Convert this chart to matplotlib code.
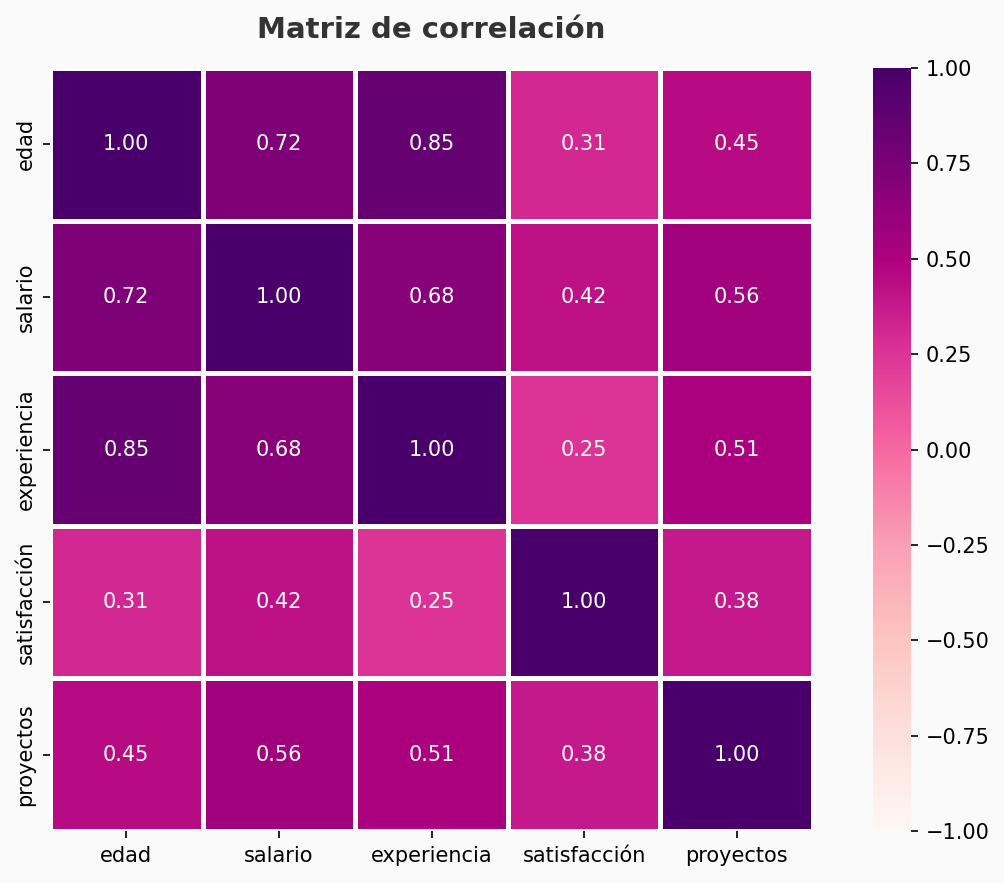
import matplotlib
matplotlib.use("Agg")
import matplotlib.pyplot as plt
import seaborn as sns
import numpy as np
import pandas as pd

labels = ["edad", "salario", "experiencia", "satisfacción", "proyectos"]
row_edad = [1.00, 0.72, 0.85, 0.31, 0.45]
row_salario = [0.72, 1.00, 0.68, 0.42, 0.56]
row_experiencia = [0.85, 0.68, 1.00, 0.25, 0.51]
row_satisfaccion = [0.31, 0.42, 0.25, 1.00, 0.38]
row_proyectos = [0.45, 0.56, 0.51, 0.38, 1.00]

corr = pd.DataFrame([row_edad, row_salario, row_experiencia, row_satisfaccion, row_proyectos],
                    index=labels, columns=labels)

bg = "#fafafa"
W, H = 1004, 883
DPI = 150
fig = plt.figure(figsize=(W / DPI, H / DPI), dpi=DPI, facecolor=bg)
ax = fig.add_axes([50 / W, (H - 831) / H, 763 / W, 763 / H])
cax = fig.add_axes([873 / W, (H - 831) / H, 38 / W, 763 / H])
ax.set_facecolor(bg)

sns.heatmap(corr, ax=ax, cbar_ax=cax, cmap="RdPu", vmin=-1, vmax=1, annot=True, fmt=".2f",
            linewidths=1.5, linecolor="white", annot_kws={"fontsize": 10, "color": "white"})
ax.set_title("Matriz de correlación", fontsize=14, fontweight="bold", color="#333333", pad=14.5)
ax.tick_params(labelsize=10)
cax.tick_params(labelsize=10)
cax.set_yticks([-1, -0.75, -0.5, -0.25, 0, 0.25, 0.5, 0.75, 1])
cax.set_yticklabels(["−1.00", "−0.75", "−0.50", "−0.25", "0.00", "0.25", "0.50", "0.75", "1.00"])
for sp in cax.spines.values():
    sp.set_visible(False)

fig.savefig("out.png", dpi=DPI, facecolor=bg)
